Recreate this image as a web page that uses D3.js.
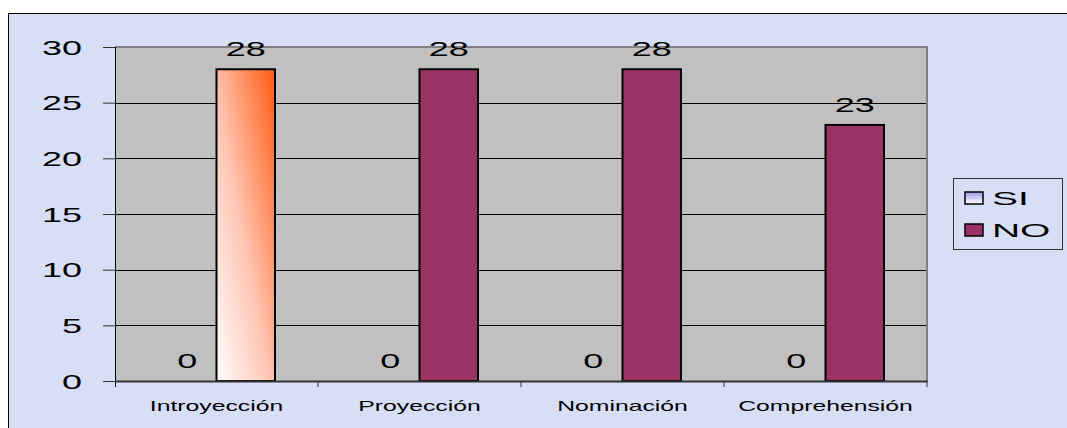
<!DOCTYPE html>
<html>
<head>
<meta charset="utf-8">
<script src="https://cdn.jsdelivr.net/npm/d3@7"></script>
<style>
  body { margin: 0; background: #fff; }
  text { font-family: Arial, "Liberation Sans", sans-serif; fill: #000; }
</style>
</head>
<body>
<div id="chart"></div>
<script>
const categories = ['Introyección', 'Proyección', 'Nominación', 'Comprehensión'];
const seriesNames = ['SI', 'NO'];
const siValues = [0, 0, 0, 0];
const noValues = [28, 28, 28, 23];
const yTicks = [0, 5, 10, 15, 20, 25, 30];

const data = categories.map((c, i) => ({category: c, SI: siValues[i], NO: noValues[i]}));

const width = 1067, height = 428;
const plot = {left: 115, right: 927, top: 47, bottom: 381};
const stretch = 1.8;

const svg = d3.select('#chart').append('svg')
    .attr('width', width)
    .attr('height', height);

const defs = svg.append('defs');
const barGrad = defs.append('linearGradient')
    .attr('id', 'siBar')
    .attr('x1', 0).attr('y1', 1).attr('x2', 1).attr('y2', 0);
barGrad.append('stop').attr('offset', '0%').attr('stop-color', '#ffffff');
barGrad.append('stop').attr('offset', '45%').attr('stop-color', '#ffc6b4');
barGrad.append('stop').attr('offset', '100%').attr('stop-color', '#ff5a10');

const legGrad = defs.append('linearGradient')
    .attr('id', 'siLegend')
    .attr('x1', 0).attr('y1', 0).attr('x2', 0).attr('y2', 1);
legGrad.append('stop').attr('offset', '0%').attr('stop-color', '#9c9cec');
legGrad.append('stop').attr('offset', '100%').attr('stop-color', '#ffffff');

// outer chart frame
svg.append('rect')
    .attr('x', 8.5).attr('y', 13.5)
    .attr('width', 1100).attr('height', 450)
    .attr('fill', '#d7def6')
    .attr('stroke', '#000')
    .attr('stroke-width', 1);

const xScale = d3.scaleBand()
    .domain(categories)
    .range([plot.left, plot.right]);

const xInner = d3.scaleBand()
    .domain(seriesNames)
    .range([0, xScale.bandwidth()])
    .paddingInner(0)
    .paddingOuter(0.735);

const yScale = d3.scaleLinear()
    .domain([0, 30])
    .range([plot.bottom, plot.top]);

// plot area
svg.append('rect')
    .attr('x', plot.left).attr('y', plot.top)
    .attr('width', plot.right - plot.left)
    .attr('height', plot.bottom - plot.top)
    .attr('fill', '#c0c0c0');

// gridlines
svg.append('g')
    .selectAll('line')
    .data(yTicks.filter(d => d > 0 && d < 30))
    .join('line')
    .attr('x1', plot.left).attr('x2', plot.right)
    .attr('y1', d => Math.round(yScale(d)) + 0.5)
    .attr('y2', d => Math.round(yScale(d)) + 0.5)
    .attr('stroke', '#000')
    .attr('stroke-width', 1);

// top and right border of plot
svg.append('path')
    .attr('d', `M${plot.left},${plot.top} H${plot.right} V${plot.bottom}`)
    .attr('fill', 'none')
    .attr('stroke', '#808080')
    .attr('stroke-width', 2);

// bars
const groups = svg.append('g')
    .selectAll('g')
    .data(data)
    .join('g')
    .attr('transform', d => `translate(${xScale(d.category)},0)`);

groups.selectAll('rect')
    .data(d => seriesNames.map(s => ({series: s, value: d[s]})))
    .join('rect')
    .filter(d => d.value > 0)
    .attr('x', d => xInner(d.series))
    .attr('y', d => yScale(d.value))
    .attr('width', xInner.bandwidth())
    .attr('height', d => yScale(0) - yScale(d.value))
    .attr('fill', (d, i, n) => {
        const cat = d3.select(n[i].parentNode).datum().category;
        return cat === categories[0] ? 'url(#siBar)' : '#993366';
    })
    .attr('stroke', '#000')
    .attr('stroke-width', 2);

// value labels
groups.selectAll('text.value')
    .data(d => seriesNames.map(s => ({series: s, value: d[s]})))
    .join('text')
    .attr('class', 'value')
    .attr('text-anchor', 'middle')
    .attr('font-size', 20)
    .attr('transform', d => `translate(${xInner(d.series) + xInner.bandwidth() / 2},${yScale(d.value) - 13}) scale(${stretch},1)`)
    .text(d => d.value);

// y axis
const yAxis = d3.axisLeft(yScale)
    .tickValues(yTicks)
    .tickSize(12)
    .tickSizeOuter(0);

const yAxisGroup = svg.append('g')
    .attr('class', 'axis y-axis')
    .attr('transform', `translate(${plot.left},0)`)
    .call(yAxis);

yAxisGroup.select('.domain')
    .attr('d', `M0.5,${plot.top}V${plot.bottom + 6}`)
    .attr('stroke', '#000');
yAxisGroup.selectAll('.tick line').attr('stroke', '#333');
yAxisGroup.selectAll('.tick text')
    .attr('x', null)
    .attr('dy', '0.36em')
    .attr('font-size', 20)
    .attr('font-family', 'Arial, "Liberation Sans", sans-serif')
    .attr('fill', '#000')
    .attr('transform', `translate(-33,0) scale(${stretch},1)`);

// x axis
const xAxis = d3.axisBottom(xScale)
    .tickSize(0)
    .tickSizeOuter(0);

const xAxisGroup = svg.append('g')
    .attr('class', 'axis x-axis')
    .attr('transform', `translate(0,${plot.bottom})`)
    .call(xAxis);

xAxisGroup.select('.domain')
    .attr('stroke', '#333')
    .attr('stroke-width', 2);
xAxisGroup.selectAll('.tick text')
    .attr('y', null)
    .attr('dy', null)
    .attr('font-size', 15)
    .attr('font-family', 'Arial, "Liberation Sans", sans-serif')
    .attr('fill', '#000')
    .attr('transform', `translate(0,30) scale(1.65,1)`);

xAxisGroup.append('g')
    .selectAll('line')
    .data(categories.slice(1).map(c => xScale(c)).concat([xScale.range()[1]]))
    .join('line')
    .attr('x1', d => d).attr('x2', d => d)
    .attr('y1', 0).attr('y2', 6)
    .attr('stroke', '#333');

// legend
const legend = svg.append('g')
    .attr('transform', 'translate(953,178)');

legend.append('rect')
    .attr('x', 0.5).attr('y', 0.5)
    .attr('width', 109).attr('height', 71)
    .attr('fill', '#d7def6')
    .attr('stroke', '#333');

const legendItems = legend.selectAll('g.item')
    .data(seriesNames)
    .join('g')
    .attr('class', 'item')
    .attr('transform', (d, i) => `translate(12,${14 + i * 32})`);

legendItems.append('rect')
    .attr('width', 18).attr('height', 12)
    .attr('fill', d => d === 'SI' ? 'url(#siLegend)' : '#993366')
    .attr('stroke', '#000')
    .attr('stroke-width', 1.5);

legendItems.append('text')
    .attr('font-size', 19)
    .attr('transform', `translate(27,13) scale(2.05,1)`)
    .text(d => d);
</script>
</body>
</html>
